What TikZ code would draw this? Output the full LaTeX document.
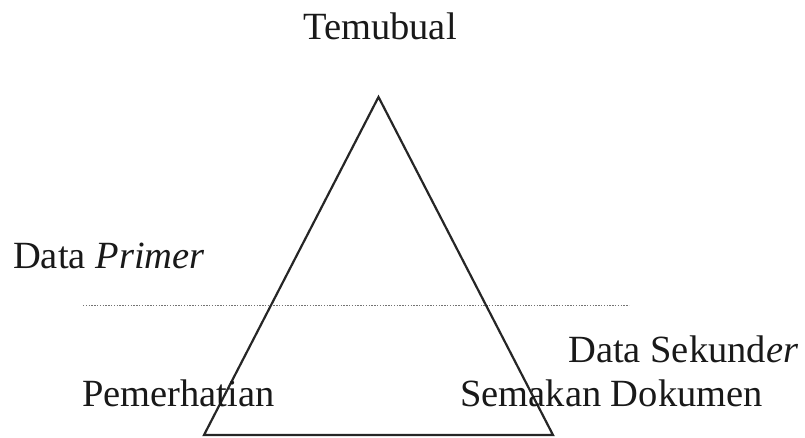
\documentclass[tikz,border=0pt]{standalone}
\usepackage{fontspec}
\setmainfont{Liberation Serif}
\begin{document}
\begin{tikzpicture}[x=1pt,y=-1pt,
  lbl/.style={anchor=base west,inner sep=0pt,font=\fontsize{38.5}{40}\selectfont,text=black!90},
  tri/.style={draw=black!85,line width=2.2pt,line join=miter},
  sep/.style={draw=black!55,line width=1.8pt,dash pattern=on 1.4pt off 1.4pt}]
\useasboundingbox (0,0) rectangle (805,437);
\coordinate (apex) at (378.5,97);
\coordinate (bl) at (204,435);
\coordinate (br) at (553,435);
\coordinate (sepL) at (83,305.5);
\coordinate (sepR) at (629,305.5);
\draw[sep] (sepL) -- (sepR);
\draw[tri] (bl) -- (apex) -- (br) -- cycle;
\node[lbl,anchor=base] (temu) at (380,39) {Temubual};
\node[lbl] (primer) at (13,268) {Data \textit{Primer}};
\node[lbl] (sekunder) at (568,362) {Data Sekund\textit{er}};
\node[lbl] (pemer) at (82,406) {Pemerhatian};
\node[lbl] (semak) at (460,406) {Semakan Dokumen};
\end{tikzpicture}
\end{document}
